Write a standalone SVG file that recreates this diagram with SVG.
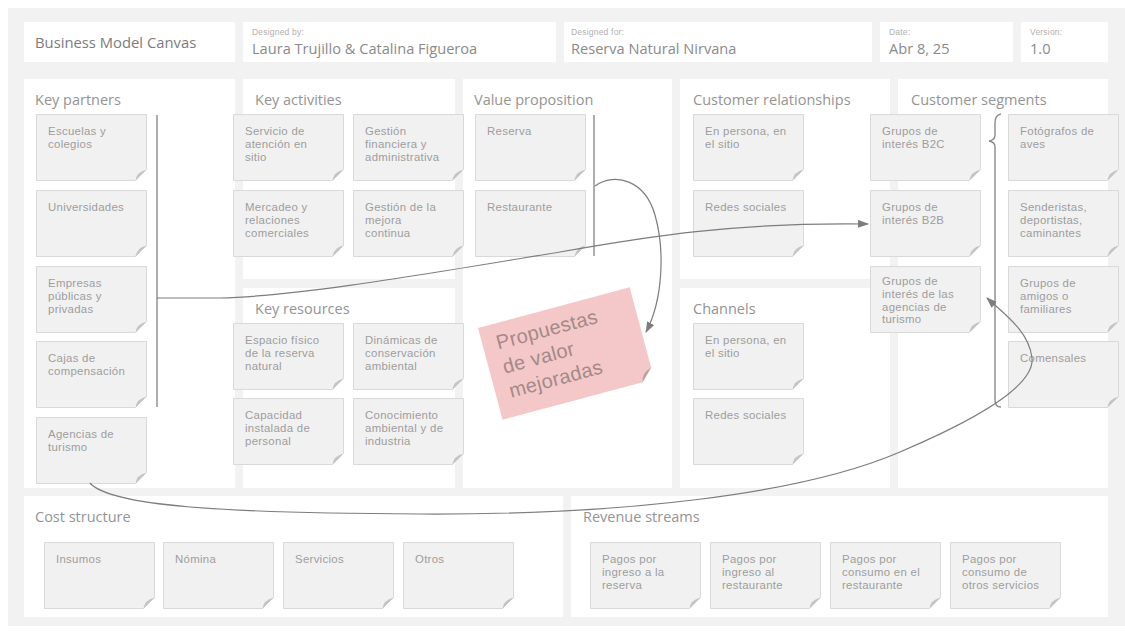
<svg xmlns="http://www.w3.org/2000/svg" xmlns:xlink="http://www.w3.org/1999/xlink" width="1125" height="633" viewBox="0 0 1125 633">
  <style>
    .panel { fill: #ffffff; }
    .ttl { font-family: "Open Sans", "Liberation Sans", sans-serif; font-size: 14.5px; fill: #949494; }
    .lbl { font-family: "Liberation Sans", Arial, sans-serif; font-size: 8.5px; fill: #b0b0b0; letter-spacing: 0.2px; }
    .val { font-family: "Open Sans", "Liberation Sans", sans-serif; font-size: 14.6px; fill: #8a8a8a; }
    .brand { font-family: "Open Sans", "Liberation Sans", sans-serif; font-size: 14.8px; fill: #7c7c7c; }
    .nt { font-family: "Liberation Sans", Arial, sans-serif; font-size: 11.4px; letter-spacing: 0.3px; fill: #9d9d9d; }
    .note-body { fill: #f1f1f1; stroke: #d9d9d9; stroke-width: 1; }
    .note-fold { fill: #c4c4c4; }
    .pink-body { fill: #f4c8c8; }
    .pink-fold { fill: #b9a3a3; }
    .pink-txt { font-family: "Liberation Sans", Arial, sans-serif; font-size: 20px; letter-spacing: 0.3px; fill: #a48989; }
    .link { fill: none; stroke: #7d7d7d; stroke-width: 1.2; }
    .divider { fill: none; stroke: #8a8a8a; stroke-width: 1.4; }
  </style>
  <defs>
    <!-- sticky note, 111 x 67, with a folded bottom-right corner -->
    <g id="note">
      <path class="note-body" d="M0.5,0.5 H110.5 V55.5 L99.5,66.5 H0.5 Z"/>
      <path class="note-fold" d="M110.5,55.5 L99.5,66.5 Q100.5,58 110.5,55.5 Z"/>
    </g>
    <marker id="arrow" markerUnits="userSpaceOnUse" markerWidth="11" markerHeight="8" refX="10" refY="4" orient="auto">
      <path d="M0,0 L11,4 L0,8 Z" fill="#7d7d7d"/>
    </marker>
  </defs>

  <!-- canvas background -->
  <rect x="8" y="8" width="1117" height="618" fill="#f2f2f2"/>

  <!-- header -->
  <g id="header">
    <g id="title-box">
      <rect class="panel" x="24" y="22" width="211" height="40"/>
      <text class="brand" x="35" y="48">Business Model Canvas</text>
    </g>
    <g id="designed-by">
      <rect class="panel" x="243" y="22" width="313" height="40"/>
      <text class="lbl" x="252" y="35">Designed by:</text>
      <text class="val" x="252" y="54">Laura Trujillo &amp; Catalina Figueroa</text>
    </g>
    <g id="designed-for">
      <rect class="panel" x="564" y="22" width="308" height="40"/>
      <text class="lbl" x="571" y="35">Designed for:</text>
      <text class="val" x="571" y="54">Reserva Natural Nirvana</text>
    </g>
    <g id="date">
      <rect class="panel" x="880" y="22" width="133" height="40"/>
      <text class="lbl" x="889" y="35">Date:</text>
      <text class="val" x="889" y="54">Abr 8, 25</text>
    </g>
    <g id="version">
      <rect class="panel" x="1021" y="22" width="87" height="40"/>
      <text class="lbl" x="1030" y="35">Version:</text>
      <text class="val" x="1030" y="54">1.0</text>
    </g>
  </g>

  <!-- canvas sections -->
  <g id="sections">
    <g id="key-partners"><rect class="panel" x="24" y="79" width="211" height="409"/><text class="ttl" x="35" y="105">Key partners</text></g>
    <g id="key-activities"><rect class="panel" x="243" y="79" width="212" height="200"/><text class="ttl" x="255" y="105">Key activities</text></g>
    <g id="key-resources"><rect class="panel" x="243" y="288" width="212" height="200"/><text class="ttl" x="255" y="314">Key resources</text></g>
    <g id="value-proposition"><rect class="panel" x="463" y="79" width="209" height="409"/><text class="ttl" x="474" y="105">Value proposition</text></g>
    <g id="customer-relationships"><rect class="panel" x="680" y="79" width="210" height="200"/><text class="ttl" x="693" y="105">Customer relationships</text></g>
    <g id="channels"><rect class="panel" x="680" y="288" width="210" height="200"/><text class="ttl" x="693" y="314">Channels</text></g>
    <g id="customer-segments"><rect class="panel" x="898" y="79" width="210" height="409"/><text class="ttl" x="911" y="105">Customer segments</text></g>
    <g id="cost-structure"><rect class="panel" x="24" y="496" width="539" height="121"/><text class="ttl" x="35" y="522">Cost structure</text></g>
    <g id="revenue-streams"><rect class="panel" x="571" y="496" width="537" height="121"/><text class="ttl" x="583" y="522">Revenue streams</text></g>
  </g>

  <!-- key partners notes -->
  <g id="kp-escuelas"><use href="#note" x="36" y="114"/><text class="nt"><tspan x="48" y="135">Escuelas y</tspan><tspan x="48" dy="12.8">colegios</tspan></text></g>
  <g id="kp-universidades"><use href="#note" x="36" y="190"/><text class="nt"><tspan x="48" y="211">Universidades</tspan></text></g>
  <g id="kp-empresas"><use href="#note" x="36" y="266"/><text class="nt"><tspan x="48" y="287">Empresas</tspan><tspan x="48" dy="12.8">públicas y</tspan><tspan x="48" dy="12.8">privadas</tspan></text></g>
  <g id="kp-cajas"><use href="#note" x="36" y="341"/><text class="nt"><tspan x="48" y="362">Cajas de</tspan><tspan x="48" dy="12.8">compensación</tspan></text></g>
  <g id="kp-agencias"><use href="#note" x="36" y="417"/><text class="nt"><tspan x="48" y="438">Agencias de</tspan><tspan x="48" dy="12.8">turismo</tspan></text></g>

  <!-- key activities notes -->
  <g id="ka-servicio"><use href="#note" x="233" y="114"/><text class="nt"><tspan x="245" y="135">Servicio de</tspan><tspan x="245" dy="12.8">atención en</tspan><tspan x="245" dy="12.8">sitio</tspan></text></g>
  <g id="ka-gestion-fin"><use href="#note" x="353" y="114"/><text class="nt"><tspan x="365" y="135">Gestión</tspan><tspan x="365" dy="12.8">financiera y</tspan><tspan x="365" dy="12.8">administrativa</tspan></text></g>
  <g id="ka-mercadeo"><use href="#note" x="233" y="190"/><text class="nt"><tspan x="245" y="211">Mercadeo y</tspan><tspan x="245" dy="12.8">relaciones</tspan><tspan x="245" dy="12.8">comerciales</tspan></text></g>
  <g id="ka-mejora"><use href="#note" x="353" y="190"/><text class="nt"><tspan x="365" y="211">Gestión de la</tspan><tspan x="365" dy="12.8">mejora</tspan><tspan x="365" dy="12.8">continua</tspan></text></g>

  <!-- key resources notes -->
  <g id="kr-espacio"><use href="#note" x="233" y="323"/><text class="nt"><tspan x="245" y="344">Espacio físico</tspan><tspan x="245" dy="12.8">de la reserva</tspan><tspan x="245" dy="12.8">natural</tspan></text></g>
  <g id="kr-dinamicas"><use href="#note" x="353" y="323"/><text class="nt"><tspan x="365" y="344">Dinámicas de</tspan><tspan x="365" dy="12.8">conservación</tspan><tspan x="365" dy="12.8">ambiental</tspan></text></g>
  <g id="kr-capacidad"><use href="#note" x="233" y="398"/><text class="nt"><tspan x="245" y="419">Capacidad</tspan><tspan x="245" dy="12.8">instalada de</tspan><tspan x="245" dy="12.8">personal</tspan></text></g>
  <g id="kr-conocimiento"><use href="#note" x="353" y="398"/><text class="nt"><tspan x="365" y="419">Conocimiento</tspan><tspan x="365" dy="12.8">ambiental y de</tspan><tspan x="365" dy="12.8">industria</tspan></text></g>

  <!-- value proposition notes -->
  <g id="vp-reserva"><use href="#note" x="475" y="114"/><text class="nt"><tspan x="487" y="135">Reserva</tspan></text></g>
  <g id="vp-restaurante"><use href="#note" x="475" y="190"/><text class="nt"><tspan x="487" y="211">Restaurante</tspan></text></g>

  <!-- customer relationships notes -->
  <g id="cr-persona"><use href="#note" x="693" y="114"/><text class="nt"><tspan x="705" y="135">En persona, en</tspan><tspan x="705" dy="12.8">el sitio</tspan></text></g>
  <g id="cr-redes"><use href="#note" x="693" y="190"/><text class="nt"><tspan x="705" y="211">Redes sociales</tspan></text></g>

  <!-- channels notes -->
  <g id="ch-persona"><use href="#note" x="693" y="323"/><text class="nt"><tspan x="705" y="344">En persona, en</tspan><tspan x="705" dy="12.8">el sitio</tspan></text></g>
  <g id="ch-redes"><use href="#note" x="693" y="398"/><text class="nt"><tspan x="705" y="419">Redes sociales</tspan></text></g>

  <!-- customer segments notes -->
  <g id="cs-b2c"><use href="#note" x="870" y="114"/><text class="nt"><tspan x="882" y="135">Grupos de</tspan><tspan x="882" dy="12.8">interés B2C</tspan></text></g>
  <g id="cs-b2b"><use href="#note" x="870" y="190"/><text class="nt"><tspan x="882" y="211">Grupos de</tspan><tspan x="882" dy="12.8">interés B2B</tspan></text></g>
  <g id="cs-agencias"><use href="#note" x="870" y="266"/><text class="nt"><tspan x="882" y="285">Grupos de</tspan><tspan x="882" dy="12.8">interés de las</tspan><tspan x="882" dy="12.8">agencias de</tspan><tspan x="882" dy="12.8">turismo</tspan></text></g>
  <g id="cs-fotografos"><use href="#note" x="1008" y="114"/><text class="nt"><tspan x="1020" y="135">Fotógrafos de</tspan><tspan x="1020" dy="12.8">aves</tspan></text></g>
  <g id="cs-senderistas"><use href="#note" x="1008" y="190"/><text class="nt"><tspan x="1020" y="211">Senderistas,</tspan><tspan x="1020" dy="12.8">deportistas,</tspan><tspan x="1020" dy="12.8">caminantes</tspan></text></g>
  <g id="cs-amigos"><use href="#note" x="1008" y="266"/><text class="nt"><tspan x="1020" y="287">Grupos de</tspan><tspan x="1020" dy="12.8">amigos o</tspan><tspan x="1020" dy="12.8">familiares</tspan></text></g>
  <g id="cs-comensales"><use href="#note" x="1008" y="341"/><text class="nt"><tspan x="1020" y="362">Comensales</tspan></text></g>

  <!-- cost structure notes -->
  <g id="cost-insumos"><use href="#note" x="44" y="542"/><text class="nt" x="56" y="563">Insumos</text></g>
  <g id="cost-nomina"><use href="#note" x="163" y="542"/><text class="nt" x="175" y="563">Nómina</text></g>
  <g id="cost-servicios"><use href="#note" x="283" y="542"/><text class="nt" x="295" y="563">Servicios</text></g>
  <g id="cost-otros"><use href="#note" x="403" y="542"/><text class="nt" x="415" y="563">Otros</text></g>

  <!-- revenue streams notes -->
  <g id="rev-reserva"><use href="#note" x="590" y="542"/><text class="nt"><tspan x="602" y="563">Pagos por</tspan><tspan x="602" dy="12.8">ingreso a la</tspan><tspan x="602" dy="12.8">reserva</tspan></text></g>
  <g id="rev-restaurante"><use href="#note" x="710" y="542"/><text class="nt"><tspan x="722" y="563">Pagos por</tspan><tspan x="722" dy="12.8">ingreso al</tspan><tspan x="722" dy="12.8">restaurante</tspan></text></g>
  <g id="rev-consumo-rest"><use href="#note" x="830" y="542"/><text class="nt"><tspan x="842" y="563">Pagos por</tspan><tspan x="842" dy="12.8">consumo en el</tspan><tspan x="842" dy="12.8">restaurante</tspan></text></g>
  <g id="rev-otros"><use href="#note" x="950" y="542"/><text class="nt"><tspan x="962" y="563">Pagos por</tspan><tspan x="962" dy="12.8">consumo de</tspan><tspan x="962" dy="12.8">otros servicios</tspan></text></g>

  <!-- improved value proposals note (tilted) -->
  <g id="vp-mejoradas" transform="translate(478,328) rotate(-15)">
    <path class="pink-body" d="M0,0 H157 V83 L145,95 H0 Z"/>
    <path class="pink-fold" d="M157,83 L145,95 Q146,86 157,83 Z"/>
    <text class="pink-txt"><tspan x="14" y="26">Propuestas</tspan><tspan x="14" y="51">de valor</tspan><tspan x="14" y="76">mejoradas</tspan></text>
  </g>

  <!-- grouping lines -->
  <g id="dividers">
    <path class="divider" d="M157,115 V407"/>
    <path class="divider" d="M594,115 V256"/>
    <path class="divider" d="M1001,114 Q995,115 995,123 L995,135 Q995,140 989,141 Q995,142 995,147 L995,400 Q995,407 1001,407"/>
  </g>

  <!-- connectors -->
  <g id="connectors">
    <path class="link" marker-end="url(#arrow)" d="M157,298 L220,298 C300,296 420,275 560,252 C645,237 735,222 868,224"/>
    <path class="link" marker-end="url(#arrow)" d="M595,186 C615,172 645,180 655,215 C665,250 663,300 646,332"/>
    <path class="link" marker-end="url(#arrow)" d="M90,483 C110,506 220,513 420,514 C620,515 800,495 900,452 C980,418 1035,385 1032,358 C1029,331 1004,314 987,298"/>
  </g>
</svg>
